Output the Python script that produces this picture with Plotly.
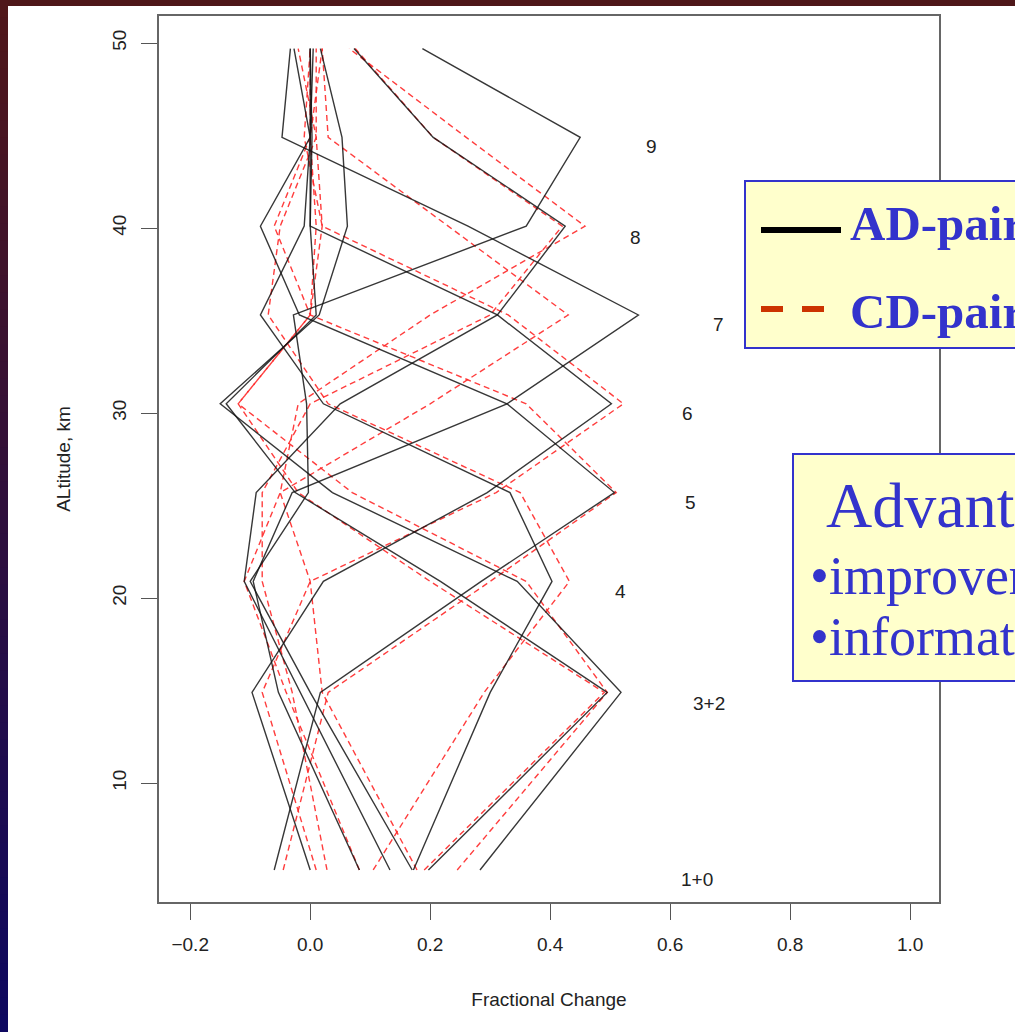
import plotly.graph_objects as go

# Altitude levels (km) of the kernel vertices
altitude = [5.3, 14.9, 20.9, 25.7, 30.5, 35.3, 40.1, 44.9, 49.7]

# AD-pair kernels (black, solid) – values at each altitude level
ad_10 = [0.197, 0.495, 0.217, -0.025, -0.14, 0.01, 0.0, 0.0, 0.0]
ad_32 = [0.283, 0.518, 0.345, 0.037, -0.15, 0.015, 0.062, 0.053, 0.017]
ad_4 = [0.172, 0.30, 0.403, 0.333, 0.022, -0.083, -0.01, 0.0, -0.027]
ad_5 = [-0.06, 0.017, 0.285, 0.507, 0.328, -0.018, -0.083, 0.0, 0.005]
ad_6 = [0.0, -0.097, 0.022, 0.295, 0.502, 0.312, 0.0, 0.003, 0.0]
ad_7 = [0.082, -0.053, -0.095, -0.03, 0.328, 0.547, 0.263, -0.047, -0.033]
ad_8 = [0.133, -0.017, -0.11, -0.09, 0.05, 0.312, 0.425, 0.205, 0.073]
ad_9 = [0.17, 0.0, -0.1, -0.003, -0.006, -0.028, 0.36, 0.45, 0.187]

# CD-pair kernels (red, dashed)
cd_10 = [0.19, 0.49, 0.2, -0.02, -0.12, 0.0, 0.01, 0.0, 0.0]
cd_32 = [0.245, 0.495, 0.36, 0.07, -0.12, 0.0, 0.02, 0.01, -0.02]
cd_4 = [0.105, 0.29, 0.432, 0.35, 0.03, -0.07, -0.05, 0.01, 0.01]
cd_5 = [-0.045, 0.03, 0.3, 0.51, 0.36, 0.0, -0.06, 0.0, 0.02]
cd_6 = [0.01, -0.08, 0.0, 0.31, 0.522, 0.33, 0.02, -0.01, 0.0]
cd_7 = [0.082, -0.04, -0.11, -0.05, 0.2, 0.43, 0.23, 0.03, 0.02]
cd_8 = [0.028, -0.03, -0.08, -0.08, 0.0, 0.3, 0.42, 0.205, 0.075]
cd_9 = [0.178, 0.02, 0.0, -0.05, -0.02, 0.2, 0.458, 0.26, 0.065]

ad_kernels = [ad_10, ad_32, ad_4, ad_5, ad_6, ad_7, ad_8, ad_9]
cd_kernels = [cd_10, cd_32, cd_4, cd_5, cd_6, cd_7, cd_8, cd_9]

# Layer labels and where they sit (data coordinates)
layer_labels = ["9", "8", "7", "6", "5", "4", "3+2", "1+0"]
label_x = [0.568, 0.542, 0.680, 0.628, 0.633, 0.517, 0.665, 0.645]
label_y = [44.38, 39.51, 34.76, 30.0, 25.14, 20.38, 14.32, 4.76]

x_ticks = [-0.2, 0.0, 0.2, 0.4, 0.6, 0.8, 1.0]
x_tick_text = ["\u22120.2", "0.0", "0.2", "0.4", "0.6", "0.8", "1.0"]
y_ticks = [10, 20, 30, 40, 50]

W, H = 1015, 1032
ML, MR, MT, MB = 159, 76, 16, 130
PW, PH = W - ML - MR, H - MT - MB

fig = go.Figure()

for k in cd_kernels:
    fig.add_trace(go.Scatter(x=k, y=altitude, mode="lines",
                             line=dict(color="rgba(255,40,40,0.9)", width=1.4, dash="6px,4px"),
                             hoverinfo="skip"))
for k in ad_kernels:
    fig.add_trace(go.Scatter(x=k, y=altitude, mode="lines",
                             line=dict(color="rgba(20,20,20,0.85)", width=1.4),
                             hoverinfo="skip"))

tick_font = dict(family="Liberation Sans, Arial, sans-serif", size=19, color="#222")


def px(x):
    """window pixel x -> paper fraction (paper = plot area)"""
    return (x - ML) / PW


def py(y):
    """window pixel y -> paper fraction"""
    return (H - MB - y) / PH


annotations = []
for t, lx, ly in zip(layer_labels, label_x, label_y):
    annotations.append(dict(x=lx, y=ly, xref="x", yref="y", text=t, showarrow=False,
                            font=tick_font))

serif_blue = "#3333CC"
serif = "Liberation Serif, Times New Roman, serif"
annotations += [
    dict(x=px(848), y=py(224), xref="paper", yref="paper", text="<b>AD-pair</b>",
         showarrow=False, xanchor="left", yanchor="middle",
         font=dict(family=serif, size=49, color=serif_blue)),
    dict(x=px(848), y=py(311), xref="paper", yref="paper", text="<b>CD-pair</b>",
         showarrow=False, xanchor="left", yanchor="middle",
         font=dict(family=serif, size=49, color=serif_blue)),
    dict(x=px(824), y=py(505), xref="paper", yref="paper", text="Advantages",
         showarrow=False, xanchor="left", yanchor="middle",
         font=dict(family=serif, size=64, color=serif_blue)),
    dict(x=px(808), y=py(576), xref="paper", yref="paper", text="\u2022improvement",
         showarrow=False, xanchor="left", yanchor="middle",
         font=dict(family=serif, size=54, color=serif_blue)),
    dict(x=px(808), y=py(637), xref="paper", yref="paper", text="\u2022information",
         showarrow=False, xanchor="left", yanchor="middle",
         font=dict(family=serif, size=54, color=serif_blue)),
]

shapes = []
# slide border: top band and left gradient band
shapes.append(dict(type="rect", xref="paper", yref="paper", x0=px(0), x1=px(W + 5),
                   y0=py(6), y1=py(-2), fillcolor="#4e1719", line=dict(width=0), layer="above"))
n = 60
top_c = (80, 23, 26)
bot_c = (14, 8, 96)
for i in range(n):
    f = i / (n - 1)
    c = tuple(int(top_c[j] + (bot_c[j] - top_c[j]) * f) for j in range(3))
    shapes.append(dict(type="rect", xref="paper", yref="paper", x0=px(-2), x1=px(8),
                       y0=py(H * (i + 1) / n + 1), y1=py(H * i / n),
                       fillcolor="rgb(%d,%d,%d)" % c, line=dict(width=0), layer="above"))

# legend / text boxes
shapes.append(dict(type="rect", xref="paper", yref="paper", x0=px(745), x1=px(1040),
                   y0=py(348), y1=py(181), fillcolor="#FFFFCC",
                   line=dict(color=serif_blue, width=2), layer="above"))
shapes.append(dict(type="rect", xref="paper", yref="paper", x0=px(793), x1=px(1040),
                   y0=py(681), y1=py(454), fillcolor="#FFFFCC",
                   line=dict(color=serif_blue, width=2), layer="above"))
# legend line samples
shapes.append(dict(type="line", xref="paper", yref="paper", x0=px(761), x1=px(841),
                   y0=py(230), y1=py(230), line=dict(color="black", width=6), layer="above"))
shapes.append(dict(type="line", xref="paper", yref="paper", x0=px(761), x1=px(827),
                   y0=py(309), y1=py(309), line=dict(color="#CC3300", width=6, dash="22px,19px"),
                   layer="above"))

fig.update_layout(
    width=W, height=H,
    margin=dict(l=ML, r=MR, t=MT, b=MB),
    paper_bgcolor="white", plot_bgcolor="white",
    showlegend=False,
    shapes=shapes,
    annotations=annotations,
    xaxis=dict(range=[-0.252, 1.048], tickvals=x_ticks, ticktext=x_tick_text,
               ticks="outside", ticklen=16, tickwidth=1.2, tickcolor="#555",
               showline=True, mirror=True, linecolor="#666", linewidth=1.5,
               showgrid=False, zeroline=False, tickfont=tick_font,
               ticklabelstandoff=8,
               title=dict(text="Fractional Change", font=tick_font, standoff=39)),
    yaxis=dict(range=[3.57, 51.46], tickvals=y_ticks,
               ticks="outside", ticklen=16, tickwidth=1.2, tickcolor="#555",
               showline=True, mirror=True, linecolor="#666", linewidth=1.5,
               showgrid=False, zeroline=False, tickfont=tick_font, tickangle=-90,
               ticklabelstandoff=8,
               title=dict(text="ALtitude, km", font=tick_font, standoff=33)),
)

fig.write_html("out.html")
